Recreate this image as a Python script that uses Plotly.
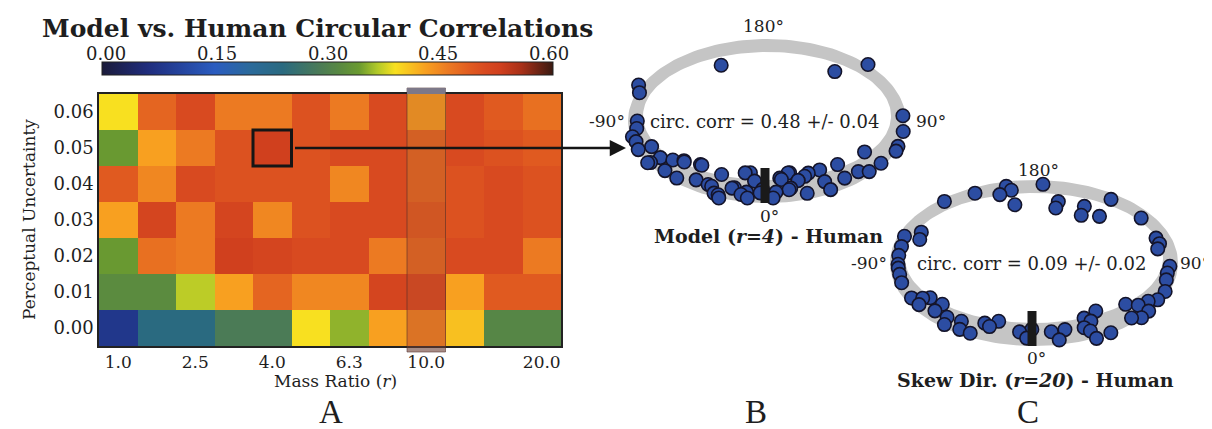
import numpy as np
import plotly.graph_objects as go

W, H = 1212, 429

# ---------------- data: heatmap ----------------
perc_unc = [0.00, 0.01, 0.02, 0.03, 0.04, 0.05, 0.06]
mass_idx = list(range(12))
mass_tick_idx = [0, 2, 4, 6, 8, 11]
mass_tick_text = ["1.0", "2.5", "4.0", "6.3", "10.0", "20.0"]

row_000 = [0.08, 0.24, 0.24, 0.29, 0.29, 0.39, 0.355, 0.43, 0.46, 0.41, 0.31, 0.31]
row_001 = [0.32, 0.32, 0.37, 0.43, 0.48, 0.45, 0.45, 0.52, 0.51, 0.43, 0.49, 0.49]
row_002 = [0.34, 0.47, 0.46, 0.53, 0.52, 0.51, 0.51, 0.46, 0.48, 0.51, 0.51, 0.46]
row_003 = [0.43, 0.52, 0.46, 0.52, 0.45, 0.50, 0.51, 0.51, 0.49, 0.50, 0.51, 0.50]
row_004 = [0.49, 0.45, 0.51, 0.50, 0.50, 0.50, 0.45, 0.51, 0.48, 0.50, 0.51, 0.50]
row_005 = [0.34, 0.43, 0.46, 0.50, 0.53, 0.50, 0.51, 0.51, 0.48, 0.51, 0.50, 0.49]
row_006 = [0.39, 0.48, 0.51, 0.46, 0.46, 0.50, 0.46, 0.51, 0.44, 0.51, 0.49, 0.47]
corr = [row_000, row_001, row_002, row_003, row_004, row_005, row_006]

cbar_ticks = [0.00, 0.15, 0.30, 0.45, 0.60]

# ---------------- data: ring panels (angle in degrees, relative radius) ----------------
b_angle = [-155.7, 143, 135.5, -117, -112, -90, -84, -78, -74, -68, -68, -57, -58, -48.5, -41,
           -49, -53, -33.5, -40, -27, -22, -25, -19, -16, -11, -10, -8, -6.5, -2, 2.5, 7, 13.5,
           10, 16, 17, 23.5, 30.6, 27.6, 27, 41.7, 36.8, 44.8, 48, 60, 56, 67, 70.6, 82, 94,
           -57.5, -48, -39, -25, -20, -15, -13, -9, -3, 4, 7.7, 12.5, 11, 16, 20.5]
b_rad = [0.85, 0.86, 1.1, 1.1, 1.05, 0.99, 1.0, 1.05, 1.04, 1.06, 0.95, 1.06, 0.96, 1.04, 1.05,
         0.84, 0.9, 0.98, 0.79, 0.99, 1.08, 0.82, 1.13, 0.97, 1.04, 0.73, 1.08, 0.84, 0.95, 1.07, 0.8, 0.74,
         0.97, 0.86, 1.05, 0.79, 0.79, 0.95, 1.07, 0.81, 0.99, 0.99, 1.05, 0.86, 1.05, 1.07, 1.06, 1.05, 1.04,
         1.08, 0.85, 0.79, 1.0, 1.09, 0.96, 0.74, 1.0, 1.0, 0.99, 0.82, 0.74, 0.95, 0.86, 0.82]

c_angle = [-142, -155.6, -165, -169, -170.5, -170, 176.5, 168, 168, 154.5, 152, 143, 147, 128,
           110.8, 106, 102, 87.4, 82, 76.6, 68, 61, 58, 53, 52, 50, 46.5, 43.6, 34.6, 27.7, 26,
           24, 30.6, 24, 22.6, 14, 10, 7.7, -1, -3, -6.4, -18, -20.6, -23.7, -26, -33.8, -31,
           -38, -40.7, -50, -48, -58, -59.5, -62, -56, -111, -117, -111, -103, -96, -89, -81,
           -74.5, -86]
c_rad = [1.07, 1.05, 0.97, 1.07, 1.01, 0.81, 1.08, 0.86, 0.77, 0.86, 0.74, 0.8, 1.04, 1.0,
         0.96, 0.96, 0.93, 1.0, 0.99, 1.0, 1.04, 1.04, 0.99, 0.96, 1.07, 0.88, 1.09, 1.04, 0.8, 0.9, 0.84,
         1.02, 1.11, 1.13, 0.96, 0.94, 1.07, 0.95, 0.91, 1.03, 0.95, 0.84, 0.93, 0.9, 1.07, 0.96, 1.06,
         1.07, 0.98, 0.88, 0.98, 0.9, 0.95, 1.02, 1.02, 1.02, 0.93, 0.9, 1.0, 1.0, 1.0, 1.0,
         1.01, 1.0]

b_corr_text = "circ. corr = 0.48 +/- 0.04"
c_corr_text = "circ. corr = 0.09 +/- 0.02"

# ---------------- layout geometry (pixels) ----------------
HX0, HX1, HY0, HY1 = 91, 553, 86, 338      # heatmap plot area
CB0, CB1, CBY0, CBY1 = 94, 545, 55, 68     # colour bar

def hx(i):
    return HX0 + (i + 0.5) * (HX1 - HX0) / len(mass_idx)

def hy(v):
    return HY1 - (v + 0.005) / 0.07 * (HY1 - HY0)

colorscale = [
    [0.00, "#1b1b3a"], [0.10, "#1f2c7c"], [0.25, "#2a5cc0"], [0.33, "#2a6a9a"],
    [0.40, "#2a6a80"], [0.48, "#4a7a58"], [0.53, "#5a8a40"], [0.57, "#6a9a30"],
    [0.61, "#b0c828"], [0.65, "#f8e020"], [0.717, "#f8a020"], [0.767, "#ec7a22"],
    [0.817, "#e05a20"], [0.85, "#d84a20"], [0.883, "#d0401e"], [0.93, "#a83018"],
    [1.00, "#3a1a12"],
]

SERIF = "DejaVu Serif"
TXT = "#1e1e1e"

fig = go.Figure()

fig.add_trace(go.Heatmap(
    z=corr, x=mass_idx, y=perc_unc, zmin=0.0, zmax=0.6, colorscale=colorscale,
    xaxis="x", yaxis="y", hoverinfo="skip",
    colorbar=dict(orientation="h", x=(CB0 + CB1) / 2 / W, xanchor="center",
                  len=(CB1 - CB0) / W, lenmode="fraction",
                  y=1 - CBY1 / H, yanchor="bottom", thickness=CBY1 - CBY0,
                  xpad=0, ypad=0, outlinewidth=1, outlinecolor="#222",
                  showticklabels=False, ticks=""),
))

# ring panels in pixel coordinates
def ring_polygon(cx, cy, ao, bo, ai, bi, dyi):
    t = np.linspace(0, 2 * np.pi, 181)
    xo = cx + ao * np.sin(t)
    yo = cy + bo * np.cos(t)
    xi = cx + ai * np.sin(t[::-1])
    yi = cy + dyi + bi * np.cos(t[::-1])
    return list(xo) + list(xi) + [xo[0]], list(yo) + list(yi) + [yo[0]]

panels = [
    dict(cx=759, cy=113, a=131, b=72, ang=b_angle, rad=b_rad, lab90=906),
    dict(cx=1026, cy=255, a=136, b=73, ang=c_angle, rad=c_rad, lab90=1170),
]
for p in panels:
    rx, ry = ring_polygon(p["cx"], p["cy"], p["a"] + 8, p["b"] + 10, p["a"] - 7, p["b"] - 8, -5)
    fig.add_trace(go.Scatter(x=rx, y=ry, mode="lines", fill="toself", fillcolor="#c5c5c5",
                             line=dict(width=0, color="#c5c5c5"), xaxis="x2", yaxis="y2",
                             hoverinfo="skip", showlegend=False))
    th = np.radians(np.array(p["ang"]))
    rr = np.array(p["rad"])
    px = p["cx"] + p["a"] * rr * np.sin(th)
    py = p["cy"] + p["b"] * rr * np.cos(th)
    order = np.argsort(py)
    fig.add_trace(go.Scatter(x=px[order], y=py[order], mode="markers", xaxis="x2", yaxis="y2",
                             marker=dict(size=13.5, color="#2c4da2",
                                         line=dict(width=1.6, color="#14142a")),
                             hoverinfo="skip", showlegend=False))
    fig.add_trace(go.Scatter(x=[p["cx"] - 2, p["cx"] - 2],
                             y=[p["cy"] + p["b"] - 25, p["cy"] + p["b"] + 10],
                             mode="lines", line=dict(width=9, color="#1a1a1a"),
                             xaxis="x2", yaxis="y2", hoverinfo="skip", showlegend=False))

shapes = [
    # highlighted column (r = 10)
    dict(type="rect", xref="x2", yref="y2", x0=hx(7.5), x1=hx(8.5), y0=80, y1=HY1 + 6,
         fillcolor="rgba(70,55,70,0.10)", line=dict(color="rgba(70,40,40,0.55)", width=1)),
    dict(type="rect", xref="x2", yref="y2", x0=hx(7.5), x1=hx(8.5), y0=80, y1=HY0,
         fillcolor="#7d7888", line=dict(width=0)),
    dict(type="rect", xref="x2", yref="y2", x0=hx(7.5), x1=hx(8.5), y0=HY1, y1=HY1 + 6,
         fillcolor="rgba(110,60,50,0.55)", line=dict(width=0)),
    # selected cell box
    dict(type="rect", xref="x", yref="y", x0=3.5, x1=4.5, y0=0.045, y1=0.055,
         line=dict(color="#151515", width=3)),
]

ann = []
def text(x, y, s, size=17, **kw):
    d = dict(x=x, y=y, xref="x2", yref="y2", text=s, showarrow=False,
             font=dict(family=SERIF, size=size, color=TXT), xanchor="center", yanchor="middle")
    d.update(kw)
    ann.append(d)

text(309, 20, "<b>Model vs. Human Circular Correlations</b>", size=25)
for v in cbar_ticks:
    text(CB0 + 4 + (v / 0.6) * (CB1 - CB0 - 8), 45, f"{v:.2f}", size=18)
text(21, (HY0 + HY1) / 2, "Perceptual Uncertainty", size=17, textangle=-90)
text((HX0 + HX1) / 2 + 5, 373, "Mass Ratio (<i>r</i>)", size=17)
big = dict(family="Liberation Serif", size=33, color=TXT)
text(323, 423, "A", yanchor="bottom", font=big, borderpad=0)
text(748, 423, "B", yanchor="bottom", font=big, borderpad=0)
text(1020, 423, "C", yanchor="bottom", font=big, borderpad=0)

for p, corr_txt, lab, lab_y, deg180_x, deg180_y, deg0_y in [
    (panels[0], b_corr_text, "<b>Model (<i>r=4</i>) - Human</b>", 228, 755, 18, 208),
    (panels[1], c_corr_text, "<b>Skew Dir. (<i>r=20</i>) - Human</b>", 372, 1030, 162, 350),
]:
    cx, cy = p["cx"], p["cy"]
    text(deg180_x, deg180_y, "180°")
    text(cx - p["a"] - 9, cy, "-90°", xanchor="right")
    text(p["lab90"], cy, "90°", xanchor="left")
    text(cx + 2, deg0_y, "0°")
    text(cx - 3, cy, corr_txt, size=18)
    text(cx + 1, lab_y, lab, size=19)

# arrow from selected cell to panel B
ann.append(dict(x=618, y=hy(0.05), ax=hx(4.5) + 2, ay=hy(0.05), xref="x2", yref="y2",
                axref="x2", ayref="y2", text="", showarrow=True, arrowhead=2,
                arrowsize=1.3, arrowwidth=2.5, arrowcolor="#151515", standoff=0))

fig.update_layout(
    width=W, height=H, margin=dict(l=0, r=0, t=0, b=0),
    paper_bgcolor="white", plot_bgcolor="rgba(0,0,0,0)", showlegend=False,
    xaxis=dict(domain=[HX0 / W, HX1 / W], range=[-0.5, 11.5], tickvals=mass_tick_idx,
               ticktext=mass_tick_text, showgrid=False, zeroline=False, ticks="",
               showline=True, mirror=True, linecolor="#222", linewidth=1.5,
               tickfont=dict(family=SERIF, size=17, color=TXT), fixedrange=True),
    yaxis=dict(domain=[1 - HY1 / H, 1 - HY0 / H], range=[-0.005, 0.065], tickvals=perc_unc,
               ticktext=[f"{v:.2f}" for v in perc_unc], showgrid=False, zeroline=False, ticks="",
               showline=True, mirror=True, linecolor="#222", linewidth=1.5,
               tickfont=dict(family=SERIF, size=18, color=TXT), fixedrange=True),
    xaxis2=dict(domain=[0, 1], range=[0, W], visible=False, anchor="y2", fixedrange=True),
    yaxis2=dict(domain=[0, 1], range=[H, 0], visible=False, anchor="x2", fixedrange=True),
    shapes=shapes, annotations=ann,
)

fig.write_html("out.html")
